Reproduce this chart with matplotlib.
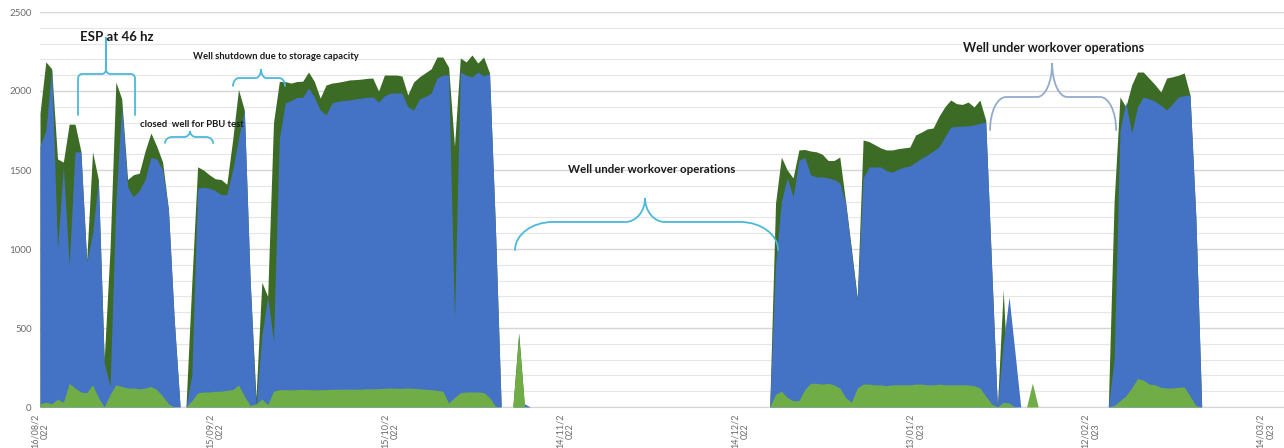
import datetime as dt

import matplotlib
matplotlib.use("Agg")
import matplotlib.pyplot as plt
from matplotlib.path import Path
from matplotlib.patches import PathPatch

plt.rcParams["font.family"] = ["Lato", "DejaVu Sans"]

# daily production, days counted from 16/08/2022 (gaps = well shut in)
days = list(range(0, 85)) + list(range(125, 172)) + list(range(183, 200))

liquid = [
    1860, 2185, 2140, 1570, 1550, 1790, 1790, 1620, 930, 1615, 1440, 300, 1000,
    2057, 1950, 1440, 1470, 1480, 1620, 1734, 1650, 1550, 1250, 550, 0,
    0, 780, 1520, 1500, 1470, 1445, 1440, 1410, 1690, 2010, 1880, 800,
    60, 790, 700, 1800, 2060, 2060, 2050, 2060, 2062, 2120, 2060, 1955,
    2038, 2050, 2055, 2062, 2070, 2072, 2075, 2080, 2082, 2000, 2101, 2101,
    2101, 2095, 1975, 2057, 2090, 2115, 2140, 2215, 2215, 2150, 1650, 2209,
    2184, 2228, 2177, 2215, 2114, 1150, 0, 0, 0, 470, 0, 0,
    0, 1291, 1582, 1500, 1450, 1627, 1630, 1620, 1615, 1600, 1560, 1560,
    1582, 1300, 1000, 690, 1690, 1680, 1660, 1640, 1627, 1627, 1635, 1640,
    1645, 1722, 1740, 1760, 1766, 1840, 1900, 1943, 1920, 1915, 1930, 1899,
    1943, 1816, 900, 0, 740, 0, 0, 0, 0, 0, 0,
    0, 1300, 1962, 1900, 2038, 2120, 2120, 2080, 2040, 1994, 2082, 2090,
    2100, 2114, 1975, 1200, 0,
]

oil = [
    1650, 1750, 2140, 1000, 1520, 900, 1615, 1615, 920, 1100, 1437, 280, 130,
    1300, 1912, 1393, 1330, 1370, 1440, 1580, 1570, 1500, 1250, 550, 0,
    0, 200, 1385, 1390, 1385, 1370, 1345, 1345, 1500, 1700, 1880, 800,
    0, 450, 700, 420, 1700, 1924, 1940, 1960, 1960, 2019, 1960, 1880,
    1848, 1924, 1935, 1940, 1943, 1950, 1955, 1960, 1962, 1930, 1970, 1987,
    1987, 1987, 1900, 1880, 1950, 1965, 1987, 2080, 2101, 2101, 560, 2120,
    2100, 2089, 2120, 2095, 2110, 1150, 0, 0, 0, 40, 20, 0,
    0, 900, 1300, 1450, 1330, 1560, 1580, 1470, 1456, 1456, 1450, 1440,
    1418, 1290, 980, 677, 1450, 1519, 1519, 1519, 1495, 1487, 1505, 1519,
    1525, 1550, 1575, 1595, 1620, 1646, 1710, 1772, 1775, 1778, 1780, 1785,
    1795, 1804, 900, 0, 400, 696, 350, 0, 0, 0, 0,
    0, 300, 1750, 1930, 1734, 1899, 1962, 1950, 1935, 1910, 1880, 1920,
    1962, 1970, 1975, 1200, 0,
]

water = [
    20, 30, 20, 50, 30, 150, 120, 95, 90, 140, 60, 0, 80,
    140, 130, 120, 120, 115, 120, 130, 110, 70, 20, 0, 0,
    0, 40, 90, 95, 95, 100, 100, 105, 110, 140, 70, 10,
    20, 50, 15, 100, 110, 110, 108, 110, 112, 110, 108, 110,
    110, 112, 112, 113, 113, 112, 113, 115, 115, 116, 118, 120,
    118, 118, 120, 118, 115, 112, 110, 105, 100, 25, 60, 90,
    95, 95, 95, 92, 60, 5, 0, 0, 0, 456, 0, 0,
    0, 80, 100, 60, 40, 40, 110, 150, 150, 145, 150, 140,
    120, 60, 30, 120, 145, 145, 140, 140, 135, 140, 140, 140,
    140, 145, 145, 140, 140, 145, 140, 140, 140, 140, 140, 135,
    120, 70, 20, 0, 30, 25, 0, 0, 0, 152, 0,
    0, 10, 40, 70, 120, 180, 170, 145, 140, 125, 120, 120,
    125, 127, 70, 10, 0,
]

start = dt.date(2022, 8, 16)
tick_days = list(range(0, 211, 30))


def brace(ax, x0, x1, xc, y_end, y_mid, y_tip, rx, ry, tx, ty, color):
    k = 0.5523
    verts = [
        (x0, y_end), (x0, y_mid - ry),
        (x0, y_mid - ry + k * ry), (x0 + rx - k * rx, y_mid), (x0 + rx, y_mid),
        (xc - tx, y_mid),
        (xc - tx + k * tx, y_mid), (xc, y_mid + ty - k * ty), (xc, y_mid + ty),
        (xc, y_tip), (xc, y_mid + ty),
        (xc, y_mid + ty - k * ty), (xc + tx - k * tx, y_mid), (xc + tx, y_mid),
        (x1 - rx, y_mid),
        (x1 - rx + k * rx, y_mid), (x1, y_mid - ry + k * ry), (x1, y_mid - ry),
        (x1, y_end),
    ]
    C = Path.CURVE4
    codes = [Path.MOVETO, Path.LINETO, C, C, C, Path.LINETO, C, C, C,
             Path.LINETO, Path.LINETO, C, C, C, Path.LINETO, C, C, C, Path.LINETO]
    ax.add_patch(PathPatch(Path(verts, codes), fill=False, edgecolor=color,
                           lw=1.3, capstyle="round", clip_on=False, zorder=6))


fig = plt.figure(figsize=(12.84, 4.48), dpi=100)
ax = fig.add_axes([40 / 1284, 41 / 448, 1244 / 1284, 395 / 448])

ax.fill_between(days, liquid, color="#3C6B25", lw=0, zorder=2)
ax.fill_between(days, oil, color="#4472C4", lw=0, zorder=3)
ax.fill_between(days, water, color="#70AD47", lw=0, zorder=4)

ax.set_xlim(0, 213.1)
ax.set_ylim(0, 2500)
ax.set_yticks(range(0, 2501, 500))
ax.set_yticks(range(0, 2501, 100), minor=True)
ax.grid(axis="y", which="major", color="#D6D6D6", lw=1.0)
ax.grid(axis="y", which="minor", color="#E6E6E6", lw=0.8)
ax.set_axisbelow(True)

labels = []
for d in tick_days:
    s = (start + dt.timedelta(days=d)).strftime("%d/%m/%Y")
    labels.append(s[:7] + "\n" + s[7:])
ax.set_xticks(tick_days)
ax.set_xticklabels(labels, rotation=90, fontsize=6.5, color="#6B6B6B",
                   va="top", ha="center", multialignment="center")
ax.tick_params(axis="both", which="both", length=0)
ax.tick_params(axis="x", pad=5)
ax.tick_params(axis="y", pad=6, labelsize=7, labelcolor="#6B6B6B")

for side in ["top", "right", "left"]:
    ax.spines[side].set_visible(False)
ax.spines["bottom"].set_color("#D6D6D6")

# notes on the shut-in periods
note = dict(fontweight="bold", ha="center", va="center", color="#1A1A1A", zorder=7)
ax.text(13.2, 2342, "ESP at 46 hz", fontsize=9.5, **note)
ax.text(26.0, 1791, "closed  well for PBU test", fontsize=6.8, **note)
ax.text(40.4, 2221, "Well shutdown due to storage capacity", fontsize=6.8, **note)
ax.text(104.7, 1506, "Well under workover operations", fontsize=8.3, **note)
ax.text(173.7, 2272, "Well under workover operations", fontsize=9, **note)

cyan = "#4DB9DA"
brace(ax, 6.51, 16.28, 11.31, 1848, 2108, 2342, 0.7, 30, 0.7, 30, cyan)
brace(ax, 21.42, 29.64, 25.70, 1671, 1709, 1747, 1.2, 38, 1.0, 38, cyan)
brace(ax, 33.07, 41.97, 37.86, 2032, 2082, 2139, 1.0, 50, 0.9, 57, cyan)
brace(ax, 81.38, 126.43, 103.65, 994, 1171, 1323, 6.5, 177, 3.4, 152, cyan)
brace(ax, 162.75, 184.34, 173.38, 1753, 1962, 2177, 2.74, 209, 2.57, 215, "#93ACCB")

fig.savefig("out.png", dpi=100)
